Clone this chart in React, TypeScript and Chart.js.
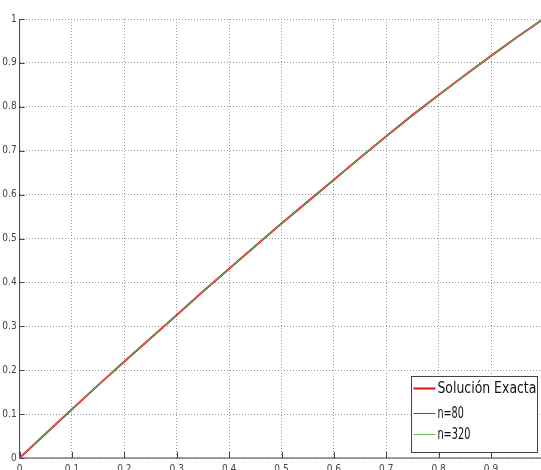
import React, { useEffect, useRef } from "react";
import { Chart, registerables } from "chart.js";

Chart.register(...registerables);

const xValues = [0, 0.05, 0.1, 0.15, 0.2, 0.25, 0.3, 0.35, 0.4, 0.45, 0.5, 0.55, 0.6, 0.65, 0.7, 0.75, 0.8, 0.85, 0.9, 0.95, 1];
const exactSol = [0, 0.056, 0.111, 0.166, 0.22, 0.273, 0.326, 0.379, 0.431, 0.483, 0.534, 0.584, 0.634, 0.684, 0.733, 0.781, 0.827, 0.872, 0.916, 0.959, 1];
const n80 = [0, 0.056, 0.111, 0.166, 0.22, 0.273, 0.326, 0.379, 0.431, 0.483, 0.534, 0.584, 0.634, 0.684, 0.733, 0.781, 0.827, 0.872, 0.916, 0.959, 1];
const n320 = [0, 0.056, 0.111, 0.166, 0.22, 0.273, 0.326, 0.379, 0.431, 0.483, 0.534, 0.584, 0.634, 0.684, 0.733, 0.781, 0.827, 0.872, 0.916, 0.959, 1];
const seriesLabels = ["Solución Exacta", "n=80", "n=320"];
const xTicks = [0, 0.1, 0.2, 0.3, 0.4, 0.5, 0.6, 0.7, 0.8, 0.9, 1];
const yTicks = [0, 0.1, 0.2, 0.3, 0.4, 0.5, 0.6, 0.7, 0.8, 0.9, 1];

const W = 560;
const H = 470;
const TICK_FONT = "'Liberation Sans Narrow', 'DejaVu Sans Condensed', 'Liberation Sans', sans-serif";

const fmt = (v: number) => (v === 0 ? "0" : v === 1 ? "1" : String(Math.round(v * 10) / 10));

const axesPlugin = {
  id: "matlabAxes",
  beforeDatasetsDraw(chart: any) {
    const { ctx, chartArea } = chart;
    const xs = chart.scales.x;
    const ys = chart.scales.y;
    ctx.save();
    ctx.strokeStyle = "#444";
    ctx.lineWidth = 1;
    ctx.setLineDash([]);
    ctx.beginPath();
    ctx.moveTo(chartArea.left, chartArea.top);
    ctx.lineTo(chartArea.left, chartArea.bottom);
    ctx.lineTo(chartArea.right, chartArea.bottom);
    ctx.stroke();
    ctx.beginPath();
    xTicks.forEach((v) => {
      const px = Math.round(xs.getPixelForValue(v)) + 0.5;
      ctx.moveTo(px, chartArea.bottom);
      ctx.lineTo(px, chartArea.bottom - 6);
    });
    yTicks.forEach((v) => {
      const py = Math.round(ys.getPixelForValue(v)) + 0.5;
      ctx.moveTo(chartArea.left, py);
      ctx.lineTo(chartArea.left + 5, py);
    });
    ctx.stroke();
    ctx.restore();
  },
};

const legendPlugin = {
  id: "boxLegend",
  afterDraw(chart: any) {
    const { ctx, chartArea } = chart;
    const right = chartArea.right - 6;
    const bottom = chartArea.bottom - 6;
    const width = 126;
    const height = 76;
    const left = right - width;
    const top = bottom - height;
    ctx.save();
    ctx.fillStyle = "#fff";
    ctx.fillRect(left, top, width, height);
    ctx.strokeStyle = "#444";
    ctx.lineWidth = 1;
    ctx.strokeRect(Math.round(left) + 0.5, Math.round(top) + 0.5, width, height);
    const rows = [top + 12, top + 37, top + 58];
    chart.data.datasets.forEach((ds: any, i: number) => {
      const y = Math.round(rows[i]) + 0.5;
      ctx.strokeStyle = ds.borderColor;
      ctx.lineWidth = ds.borderWidth;
      ctx.beginPath();
      ctx.moveTo(left + 2, y);
      ctx.lineTo(left + 24, y);
      ctx.stroke();
      ctx.fillStyle = "#111";
      ctx.font = "15px 'DejaVu Sans Condensed', 'Liberation Sans Narrow', sans-serif";
      ctx.textBaseline = "middle";
      ctx.textAlign = "left";
      const label = ds.label;
      const tw = ctx.measureText(label).width;
      const target = label.length * 6.6;
      const sx = Math.min(1, target / tw);
      ctx.save();
      ctx.translate(left + 26, y);
      ctx.scale(sx, 1.05);
      ctx.fillText(label, 0, 0);
      ctx.restore();
    });
    ctx.restore();
  },
};

export default function App() {
  const ref = useRef<HTMLCanvasElement | null>(null);
  useEffect(() => {
    if (!ref.current) return;
    const mk = (arr: number[]) => xValues.map((x, i) => ({ x, y: arr[i] }));
    const chart = new Chart(ref.current, {
      type: "line",
      data: {
        datasets: [
          { label: seriesLabels[0], data: mk(exactSol), borderColor: "#dd1111", borderWidth: 2, pointRadius: 0, order: 2, tension: 0 },
          { label: seriesLabels[1], data: mk(n80), borderColor: "#50509a", borderWidth: 1, pointRadius: 0, order: 1, tension: 0 },
          { label: seriesLabels[2], data: mk(n320), borderColor: "#66bb55", borderWidth: 1, pointRadius: 0, order: 0, tension: 0 },
        ],
      },
      options: {
        animation: false,
        responsive: false,
        maintainAspectRatio: false,
        devicePixelRatio: 1,
        layout: { padding: { top: 19, right: W - 543.4, left: 0, bottom: 0 } },
        plugins: { legend: { display: false }, tooltip: { enabled: false } },
        scales: {
          x: {
            type: "linear",
            min: 0,
            max: 1,
            afterBuildTicks: (s: any) => {
              s.ticks = xTicks.map((v) => ({ value: v }));
            },
            afterFit: (s: any) => {
              s.height = H - 458;
            },
            ticks: {
              autoSkip: false,
              maxRotation: 0,
              padding: 5,
              color: "#444",
              font: { family: TICK_FONT, size: 10 },
              callback: (v: any) => fmt(Number(v)),
            },
            grid: { color: "#9a9a9a", drawTicks: false, lineWidth: 1, borderDash: [1, 2] } as any,
            border: { display: false, dash: [1, 2] },
          },
          y: {
            type: "linear",
            min: 0,
            max: 1,
            afterBuildTicks: (s: any) => {
              s.ticks = yTicks.map((v) => ({ value: v }));
            },
            afterFit: (s: any) => {
              s.width = 19.6;
            },
            ticks: {
              autoSkip: false,
              padding: 3,
              color: "#444",
              font: { family: TICK_FONT, size: 10 },
              callback: (v: any) => fmt(Number(v)),
            },
            grid: { color: "#9a9a9a", drawTicks: false, lineWidth: 1, borderDash: [1, 2] } as any,
            border: { display: false, dash: [1, 2] },
          },
        },
      },
      plugins: [axesPlugin, legendPlugin],
    });
    return () => chart.destroy();
  }, []);
  return (
    <div style={{ position: "fixed", left: 0, top: 0, width: 541, height: 470, overflow: "hidden", background: "#fff" }}>
      <canvas ref={ref} width={W} height={H} style={{ width: W, height: H, display: "block" }} />
    </div>
  );
}
